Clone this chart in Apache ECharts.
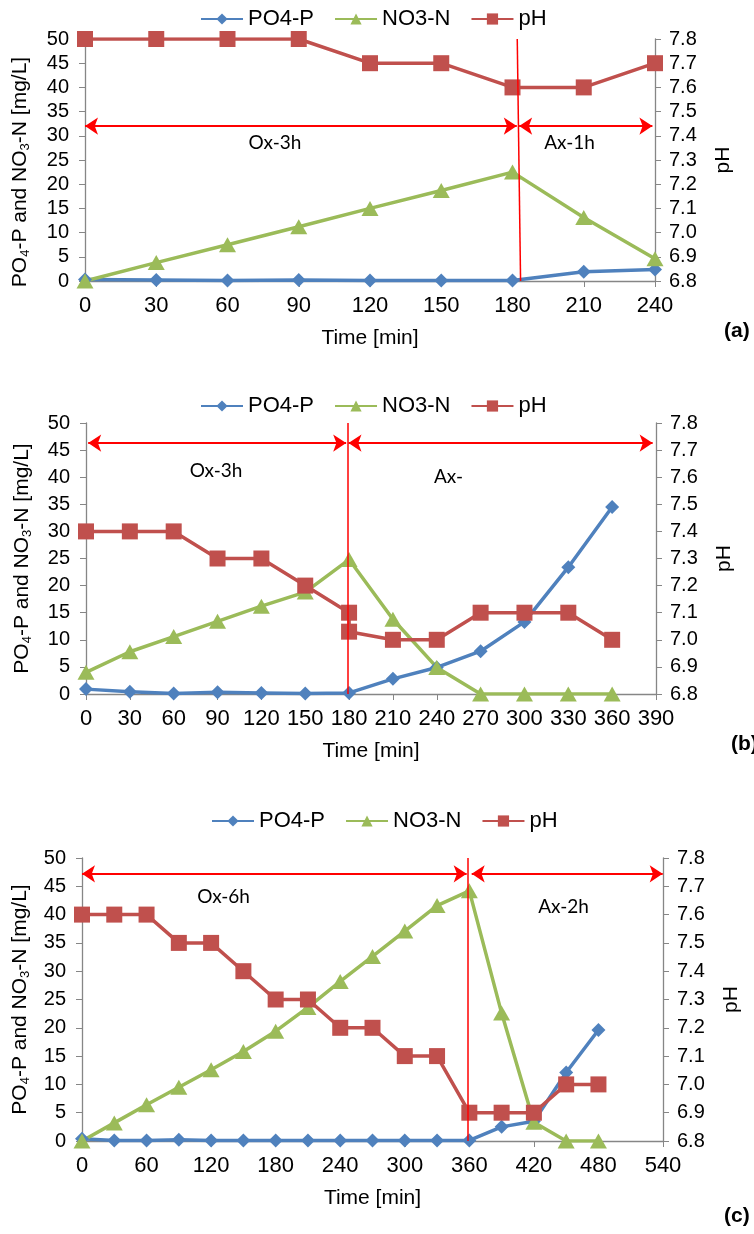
<!DOCTYPE html>
<html>
<head>
<meta charset="utf-8">
<title>PO4-P, NO3-N and pH</title>
<script src="https://cdn.jsdelivr.net/npm/echarts@6/dist/echarts.min.js"></script>
<style>
  html, body { margin: 0; padding: 0; background: #fff; }
  #chart { width: 754px; height: 1234px; }
</style>
</head>
<body>
<div id="chart"></div>
<script>
// (a) Ox-3h / Ax-1h
const timeA = [0, 30, 60, 90, 120, 150, 180, 210, 240];
const po4A = [0.3, 0.2, 0.1, 0.2, 0.1, 0.1, 0.1, 1.9, 2.4];
const no3A = [0, 3.8, 7.5, 11.2, 15, 18.7, 22.5, 13.1, 4.6];
const phA = [7.8, 7.8, 7.8, 7.8, 7.7, 7.7, 7.6, 7.6, 7.7];

// (b) Ox-3h / Ax-  (two pH readings at 180 min)
const timeB = [0, 30, 60, 90, 120, 150, 180, 210, 240, 270, 300, 330, 360];
const po4B = [0.9, 0.4, 0.1, 0.3, 0.2, 0.1, 0.2, 2.8, 4.9, 7.9, 13.3, 23.4, 34.5];
const no3B = [4.0, 7.8, 10.6, 13.4, 16.2, 18.8, 24.8, 13.8, 4.9, 0, 0, 0, 0];
const phTimeB = [0, 30, 60, 90, 120, 150, 180, 180, 210, 240, 270, 300, 330, 360];
const phB = [7.4, 7.4, 7.4, 7.3, 7.3, 7.2, 7.1, 7.03, 7.0, 7.0, 7.1, 7.1, 7.1, 7.0];

// (c) Ox-6h / Ax-2h
const timeC = [0, 30, 60, 90, 120, 150, 180, 210, 240, 270, 300, 330, 360, 390, 420, 450, 480];
const po4C = [0.4, 0.1, 0.1, 0.2, 0.1, 0.1, 0.1, 0.1, 0.1, 0.1, 0.1, 0.1, 0.1, 2.5, 3.5, 12.1, 19.6];
const no3C = [0, 3.2, 6.4, 9.5, 12.6, 15.8, 19.4, 23.6, 28.2, 32.6, 37.1, 41.6, 44.2, 22.6, 3.3, 0, 0];
const phC = [7.6, 7.6, 7.6, 7.5, 7.5, 7.4, 7.3, 7.3, 7.2, 7.2, 7.1, 7.1, 6.9, 6.9, 6.9, 7.0, 7.0];

const xMax = [240, 390, 540];
const xStep = [30, 30, 60];
const legendNames = ['PO4-P', 'NO3-N', 'pH'];

const font = "'Liberation Sans', Arial, sans-serif";
const blue = '#4F81BD', green = '#9BBB59', red = '#C0504D', axisGrey = '#868686';

function pairs(xs, ys) {
  return xs.map((x, i) => [x, ys[i]]);
}

const grids = [
  { left: 83, top: 39, width: 572, height: 242 },
  { left: 86, top: 423, width: 570, height: 271 },
  { left: 82, top: 858, width: 581, height: 283 }
];

const xAxes = [0, 1, 2].map(i => ({
  type: 'value',
  gridIndex: i,
  min: 0,
  max: xMax[i],
  interval: xStep[i],
  name: 'Time [min]',
  nameLocation: 'middle',
  nameGap: 47,
  nameTextStyle: { fontSize: 21, color: '#000', fontFamily: font },
  axisLine: { show: true, lineStyle: { color: axisGrey, width: 1.3 } },
  axisTick: { show: true, length: 6, lineStyle: { color: axisGrey } },
  axisLabel: { fontSize: 22, color: '#000', fontFamily: font, margin: 14 },
  splitLine: { show: false }
}));

const leftGap = [53, 52, 50];
const yAxes = [];
[0, 1, 2].forEach(i => {
  yAxes.push({
    type: 'value',
    gridIndex: i,
    position: 'left',
    min: 0,
    max: 50,
    interval: 5,
    name: 'PO{s|4}-P and NO{s|3}-N [mg/L]',
    nameLocation: 'middle',
    nameGap: leftGap[i],
    nameTextStyle: {
      fontSize: 21, color: '#000', fontFamily: font, lineHeight: 24,
      padding: i === 0 ? [0, 24, 0, 0] : 0,
      rich: { s: { fontSize: 13, lineHeight: 13, verticalAlign: 'bottom', fontFamily: font, color: '#000' } }
    },
    axisLine: { show: true, lineStyle: { color: axisGrey, width: 1.3 } },
    axisTick: { show: true, length: 6, lineStyle: { color: axisGrey } },
    axisLabel: { fontSize: 20, color: '#000', fontFamily: font, margin: 16 },
    splitLine: { show: false }
  });
  yAxes.push({
    type: 'value',
    gridIndex: i,
    position: 'right',
    min: 6.8,
    max: 7.8,
    interval: 0.1,
    name: 'pH',
    nameLocation: 'middle',
    nameGap: 58,
    nameTextStyle: { fontSize: 21, color: '#000', fontFamily: font },
    axisLine: { show: true, lineStyle: { color: axisGrey, width: 1.3 } },
    axisTick: { show: true, length: 6, lineStyle: { color: axisGrey } },
    axisLabel: { fontSize: 20, color: '#000', fontFamily: font, margin: 14, formatter: v => v.toFixed(1) },
    splitLine: { show: false }
  });
});

const panelData = [
  { po4: pairs(timeA, po4A), no3: pairs(timeA, no3A), ph: pairs(timeA, phA) },
  { po4: pairs(timeB, po4B), no3: pairs(timeB, no3B), ph: pairs(phTimeB, phB) },
  { po4: pairs(timeC, po4C), no3: pairs(timeC, no3C), ph: pairs(timeC, phC) }
];

// red phase arrows, the switch line and the phase names, in data units of the left axis
const annotations = [
  {
    arrows: [[[0, 32], [181.8, 32]], [[182.8, 32], [238.9, 32]]],
    divider: [[182, 50], [183.4, 0]],
    texts: [{ name: 'Ox-3h', coord: [80, 28.5] }, { name: 'Ax-1h', coord: [204, 28.5] }]
  },
  {
    arrows: [[[1.5, 46.3], [178, 46.3]], [[179.6, 46.3], [387.7, 46.3]]],
    divider: [[178.8, 50], [178.8, 0]],
    texts: [{ name: 'Ox-3h', coord: [89, 41.2] }, { name: 'Ax-', coord: [248, 40] }]
  },
  {
    arrows: [[[0, 47.2], [357.5, 47.2]], [[362.2, 47.2], [539.7, 47.2]]],
    divider: [[358.5, 50], [358.5, 0]],
    texts: [{ name: 'Ox-6h', coord: [131.6, 43.2] }, { name: 'Ax-2h', coord: [447.5, 41.3] }]
  }
];

const series = [];
[0, 1, 2].forEach(i => {
  const d = panelData[i];
  series.push({
    name: 'PO4-P', type: 'line', xAxisIndex: i, yAxisIndex: i * 2,
    data: d.po4, symbol: 'diamond', symbolSize: 14,
    lineStyle: { color: blue, width: 3.5 }, itemStyle: { color: blue }
  });
  series.push({
    name: 'NO3-N', type: 'line', xAxisIndex: i, yAxisIndex: i * 2,
    data: d.no3, symbol: 'triangle', symbolSize: [17, 15],
    lineStyle: { color: green, width: 3.5 }, itemStyle: { color: green }
  });
  series.push({
    name: 'pH', type: 'line', xAxisIndex: i, yAxisIndex: i * 2 + 1,
    data: d.ph, symbol: 'rect', symbolSize: 16,
    lineStyle: { color: red, width: 3.5 }, itemStyle: { color: red }
  });
  const a = annotations[i];
  series.push({
    name: 'phases', type: 'line', xAxisIndex: i, yAxisIndex: i * 2,
    data: [], clip: false, silent: true, z: 5,
    markLine: {
      silent: true,
      animation: false,
      symbol: ['arrow', 'arrow'],
      symbolSize: [13, 13],
      label: { show: false },
      lineStyle: { color: '#FF0000', width: 2, type: 'solid' },
      data: a.arrows.map(p => [{ coord: p[0] }, { coord: p[1] }]).concat([
        [
          { coord: a.divider[0], symbol: 'none', lineStyle: { width: 1.5 } },
          { coord: a.divider[1], symbol: 'none' }
        ]
      ])
    },
    markPoint: {
      silent: true,
      animation: false,
      symbol: 'rect',
      symbolSize: 1,
      itemStyle: { color: 'rgba(0,0,0,0)' },
      label: {
        show: true, position: 'inside', formatter: '{b}',
        color: '#000', fontSize: 19, fontFamily: "Lato, 'Open Sans', sans-serif"
      },
      data: a.texts
    }
  });
});

const legendTops = [3, 390, 805];
const legendLefts = [195, 195, 206];
const legends = [0, 1, 2].map(i => ({
  data: legendNames,
  left: legendLefts[i],
  top: legendTops[i],
  itemWidth: 42,
  itemHeight: 14,
  itemGap: 20,
  selectedMode: false,
  textStyle: { fontSize: 22, color: '#000', fontFamily: font }
}));

const panelTags = [
  { text: '(a)', left: 724, top: 321 },
  { text: '(b)', left: 731, top: 734 },
  { text: '(c)', left: 724, top: 1206 }
];

const chart = echarts.init(document.getElementById('chart'));
const option = {
  animation: false,
  backgroundColor: '#fff',
  grid: grids,
  xAxis: xAxes,
  yAxis: yAxes,
  legend: legends,
  series: series,
  graphic: panelTags.map(t => ({
    type: 'text',
    left: t.left,
    top: t.top,
    style: { text: t.text, fill: '#000', font: 'bold 21px ' + font }
  }))
};
chart.setOption(option);
window.addEventListener('resize', function () {
  chart.resize();
});
</script>
</body>
</html>
